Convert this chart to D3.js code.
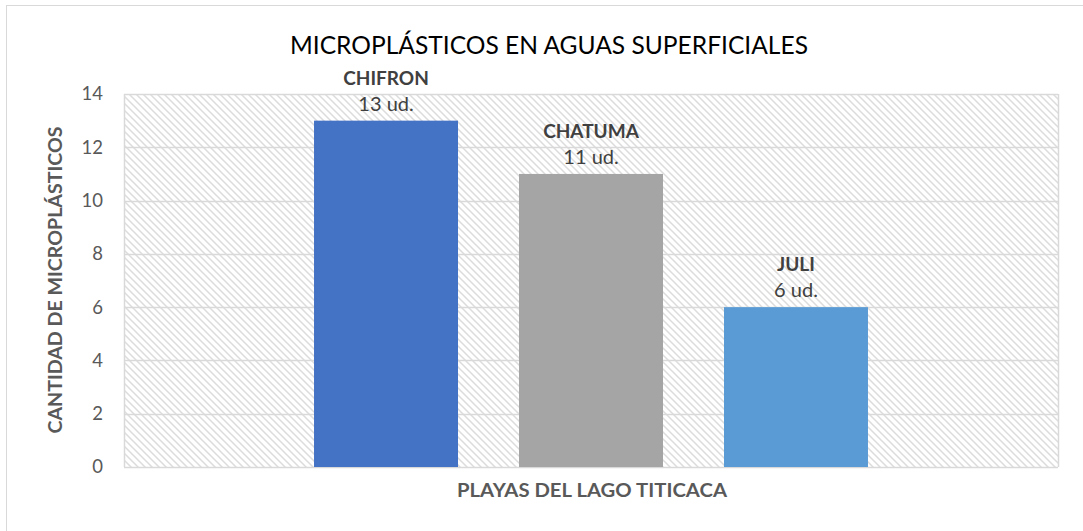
<!DOCTYPE html>
<html>
<head>
<meta charset="utf-8">
<script src="https://cdn.jsdelivr.net/npm/d3@7"></script>
<style>
  body { margin: 0; background: #fff; }
  svg { display: block; }
  text { font-family: Lato, "Open Sans", sans-serif; }
</style>
</head>
<body>
<script>
'use strict';

// chart data
const playas = ["CHIFRON", "CHATUMA", "JULI"];
const cantidades = [13, 11, 6];
const etiquetas = ["13 ud.", "11 ud.", "6 ud."];
const yTicks = [0, 2, 4, 6, 8, 10, 12, 14];
const colores = ["#4472C4", "#A5A5A5", "#5B9BD5"];

const width = 1083, height = 531;
const plot = { left: 124, top: 94, right: 1058, bottom: 467 };

const svg = d3.select('body').append('svg')
  .attr('width', width)
  .attr('height', height);

// hatch pattern for the plot background
const pat = svg.append('defs').append('pattern')
  .attr('id', 'hatch')
  .attr('patternUnits', 'userSpaceOnUse')
  .attr('width', 7)
  .attr('height', 7);
pat.append('rect').attr('width', 7).attr('height', 7).attr('fill', '#fff');
pat.append('path')
  .attr('d', 'M-2,-2L9,9M-2,5L2,9M5,-2L9,2')
  .attr('stroke', '#dcdcdc')
  .attr('stroke-width', 1.5);

// outer chart frame
svg.append('rect')
  .attr('x', 6.5).attr('y', 5.5)
  .attr('width', 1100).attr('height', 600)
  .attr('fill', '#fff')
  .attr('stroke', '#d9d9d9');

// scales
const x = d3.scaleBand()
  .domain(playas)
  .range([plot.left, plot.right])
  .paddingInner(0.2976)
  .paddingOuter(0.927);

const y = d3.scaleLinear()
  .domain([0, 14])
  .range([plot.bottom, plot.top]);

// plot background
svg.append('rect')
  .attr('x', plot.left).attr('y', plot.top)
  .attr('width', plot.right - plot.left)
  .attr('height', plot.bottom - plot.top)
  .attr('fill', 'url(#hatch)');

// gridlines
svg.append('g')
  .selectAll('line')
  .data(yTicks)
  .enter().append('line')
    .attr('x1', plot.left).attr('x2', plot.right)
    .attr('y1', d => Math.round(y(d)) + 0.5)
    .attr('y2', d => Math.round(y(d)) + 0.5)
    .attr('stroke', '#d9d9d9')
    .attr('stroke-width', 1.5);

// plot border sides
svg.append('line')
  .attr('x1', plot.left + 0.5).attr('x2', plot.left + 0.5)
  .attr('y1', plot.top).attr('y2', plot.bottom)
  .attr('stroke', '#d9d9d9').attr('stroke-width', 1.5);
svg.append('line')
  .attr('x1', plot.right + 0.5).attr('x2', plot.right + 0.5)
  .attr('y1', plot.top).attr('y2', plot.bottom)
  .attr('stroke', '#d9d9d9').attr('stroke-width', 1.5);

// y axis labels
const yAxis = d3.axisLeft(y).tickValues(yTicks).tickSize(0).tickPadding(21);
const gy = svg.append('g')
  .attr('transform', `translate(${plot.left},0)`)
  .call(yAxis);
gy.select('.domain').remove();
gy.selectAll('text')
  .attr('fill', '#595959')
  .style('font-size', '18.5px');

// bars
svg.append('g')
  .selectAll('rect')
  .data(playas)
  .enter().append('rect')
    .attr('x', d => x(d))
    .attr('y', (d, i) => y(cantidades[i]))
    .attr('width', x.bandwidth())
    .attr('height', (d, i) => y(0) - y(cantidades[i]))
    .attr('fill', (d, i) => colores[i]);

// data labels: name and value
const labels = svg.append('g')
  .selectAll('g')
  .data(playas)
  .enter().append('g')
    .attr('transform', (d, i) => `translate(${x(d) + x.bandwidth() / 2},${y(cantidades[i])})`);
labels.append('text')
  .attr('y', -36)
  .attr('text-anchor', 'middle')
  .attr('fill', '#404040')
  .style('font-size', '19px')
  .style('font-weight', 'bold')
  .text(d => d);
labels.append('text')
  .attr('y', -10)
  .attr('text-anchor', 'middle')
  .attr('fill', '#404040')
  .style('font-size', '20px')
  .text((d, i) => etiquetas[i]);

// title
svg.append('text')
  .attr('x', 549)
  .attr('y', 54)
  .attr('text-anchor', 'middle')
  .attr('textLength', 518)
  .attr('lengthAdjust', 'spacingAndGlyphs')
  .attr('fill', '#000')
  .style('font-size', '25px')
  .text('MICROPLÁSTICOS EN AGUAS SUPERFICIALES');

// x axis title
svg.append('text')
  .attr('x', 592)
  .attr('y', 497)
  .attr('text-anchor', 'middle')
  .attr('textLength', 270)
  .attr('lengthAdjust', 'spacingAndGlyphs')
  .attr('fill', '#595959')
  .style('font-size', '19px')
  .style('font-weight', 'bold')
  .text('PLAYAS DEL LAGO TITICACA');

// y axis title
svg.append('text')
  .attr('transform', 'translate(62, 280)rotate(-90)')
  .attr('text-anchor', 'middle')
  .attr('textLength', 307)
  .attr('lengthAdjust', 'spacingAndGlyphs')
  .attr('fill', '#595959')
  .style('font-size', '19px')
  .style('font-weight', 'bold')
  .text('CANTIDAD DE MICROPLÁSTICOS');
</script>
</body>
</html>
